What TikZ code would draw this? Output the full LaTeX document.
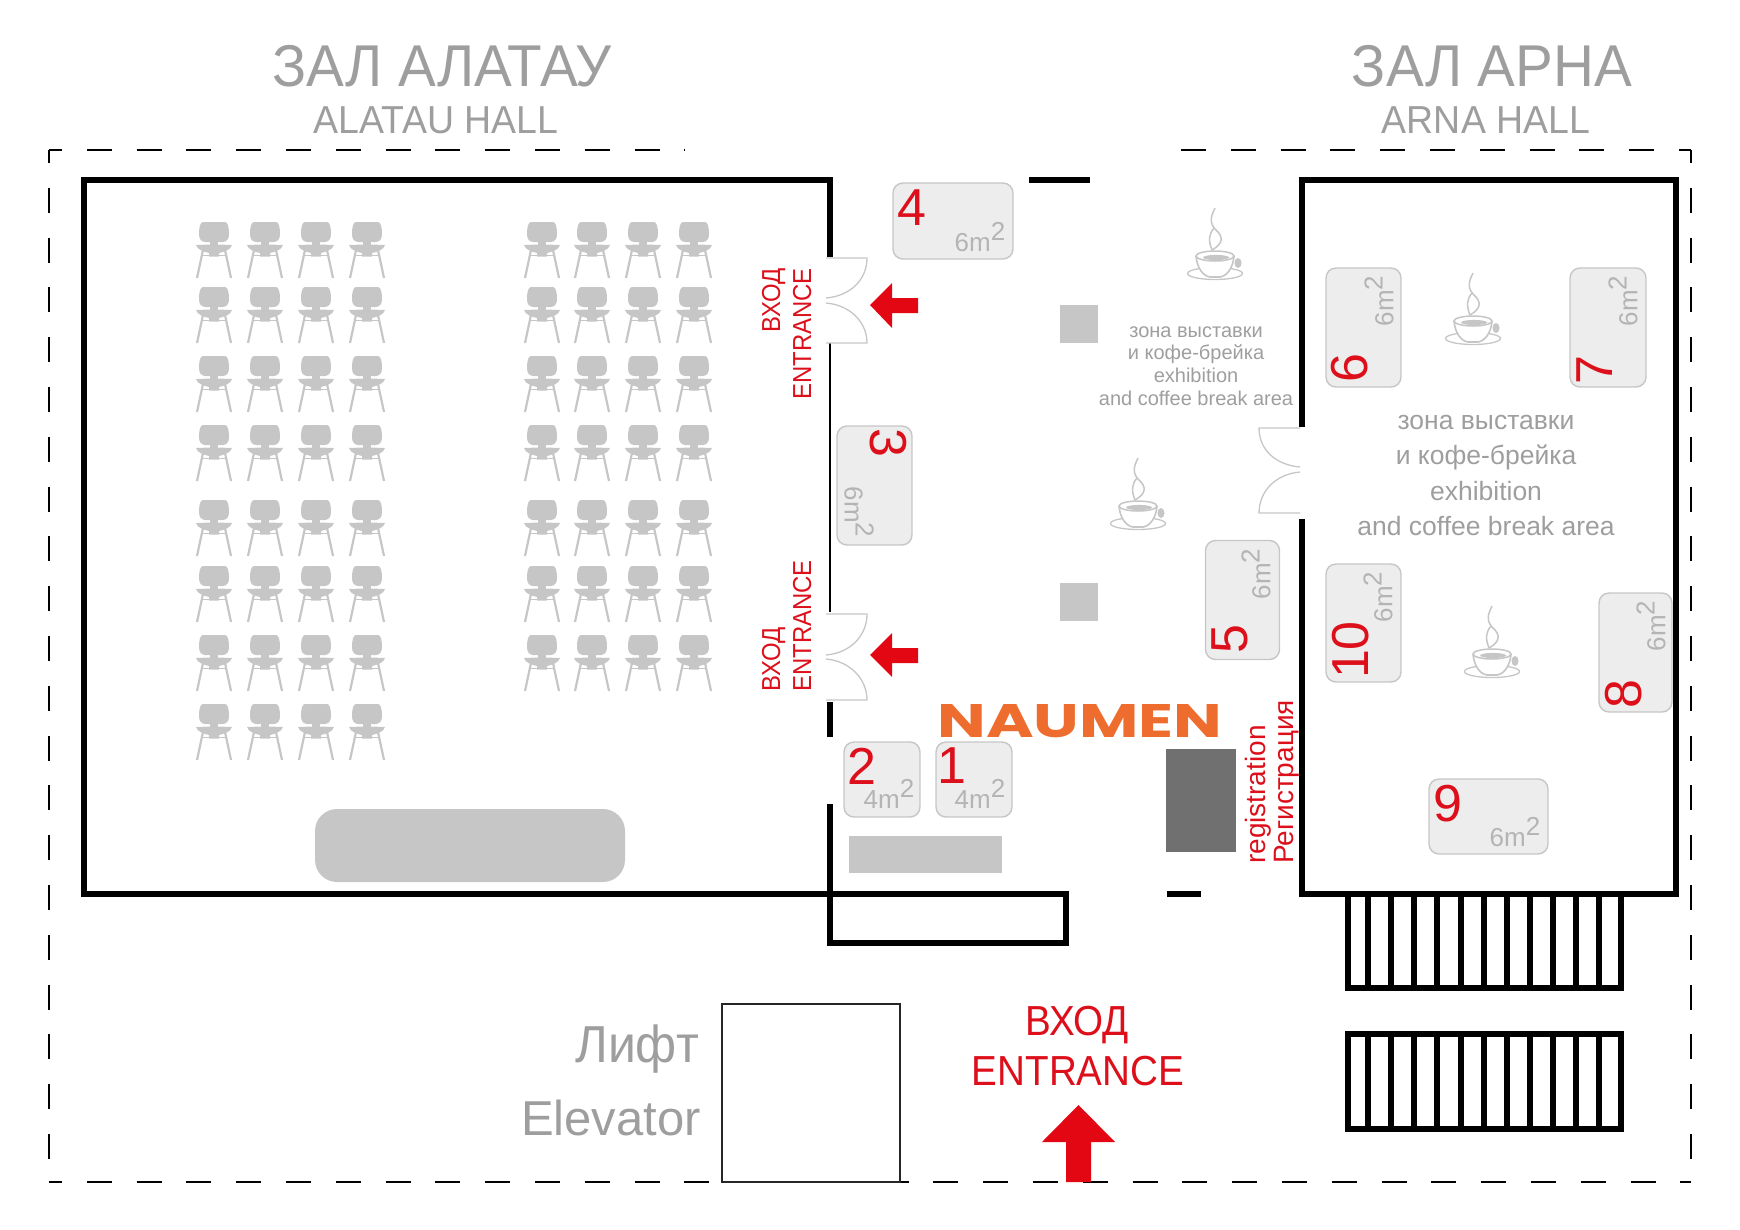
\documentclass[tikz,border=0pt]{standalone}
\usepackage{fontspec}
\usepackage{xcolor}
\setmainfont{Liberation Sans}
\newfontfamily\narrowfont[FakeStretch=0.92]{Liberation Sans}
\newfontfamily\titlefont[FakeStretch=0.96]{Liberation Sans}
\newfontfamily\logofont{Poppins}
\usetikzlibrary{positioning}
\definecolor{numred}{HTML}{DC0F1A}
\definecolor{arrowred}{HTML}{E30613}
\definecolor{labelgray}{HTML}{9E9E9E}
\definecolor{areagray}{HTML}{B4B4B4}
\definecolor{chairgray}{HTML}{C6C6C6}
\definecolor{logoorange}{HTML}{EE6C2D}
\newcommand{\fsz}[1]{\fontsize{#1}{#1}\selectfont}
\newcommand{\sqm}[1]{#1m\raisebox{0.42em}{2}}
\tikzstyle{wall} = [line width=6pt, black, miter limit=10]
\tikzstyle{border} = [line width=2.2pt, black, dash pattern=on 25pt off 24.8pt]
\tikzstyle{door} = [line width=1.3pt, color=chairgray]
\tikzstyle{stand} = [rectangle, draw=chairgray, fill=black!7, line width=1.4pt, rounded corners=10pt, inner sep=0pt]
\tikzstyle{num} = [text=numred, inner sep=0pt, font=\fsz{52}]
\tikzstyle{area} = [text=areagray, inner sep=0pt, font=\fsz{26}]
\tikzstyle{hall} = [text=labelgray, inner sep=0pt, anchor=base]
\tikzstyle{redtext} = [text=numred, inner sep=0pt, rotate=90, font=\narrowfont\fsz{26}]
\newcommand{\chairAt}[2]{
  \begin{scope}[shift={(#1,#2)}, color=chairgray, fill=chairgray]
    \fill (-11,0) -- (11,0) .. controls (14,0) and (15,6) .. (15,12) .. controls (15,17) and (13,19.5) .. (9,20) -- (-9,20) .. controls (-13,19.5) and (-15,17) .. (-15,12) .. controls (-15,6) and (-14,0) .. (-11,0) -- cycle;
    \fill (-4,19) rectangle (4,24);
    \fill (-18,23) .. controls (-8,22.5) and (8,22.5) .. (18,23) .. controls (17,28) and (9,30) .. (5,31) -- (5,34.5) -- (-5,34.5) -- (-5,31) .. controls (-9,30) and (-17,28) .. (-18,23) -- cycle;
    \draw[line width=2.2pt] (-11,28) -- (-17,56);
    \draw[line width=2.2pt] (11,28) -- (17,56);
    \draw[line width=1.4pt] (-11,33.5) -- (11,33.5);
  \end{scope}
}
\newcommand{\cupAt}[2]{
  \begin{scope}[shift={(#1,#2)}, color=chairgray]
    \draw[line width=1.5pt] (0,0) .. controls (-5,10) and (-6,16) .. (3,24) .. controls (10,32) and (4,38) .. (-3,42);
    \draw[line width=1.5pt] (-1,20) .. controls (-6,26) and (-7,32) .. (-3,42);
    \draw[line width=1.3pt] (0,65.5) ellipse (27.5 and 6);
    \fill (23,55) ellipse (3.5 and 5);
    \draw[line width=1.6pt, fill=white] (-19,48) .. controls (-18,60) and (-12,68) .. (-5,69) -- (5,69) .. controls (12,68) and (18,60) .. (19,48);
    \draw[line width=1.5pt, fill=white] (0,48) ellipse (19 and 5);
    \fill (1,49.5) ellipse (13 and 2.6);
  \end{scope}
}
\begin{document}
\begin{tikzpicture}[x=1pt, y=-1pt]
  \useasboundingbox (0,0) rectangle (1740,1229);
  % outer dashed line
  \draw[border, dash phase=12pt] (49,150) -- (685,150);
  \draw[border] (1181,150) -- (1691,150);
  \draw[border, dash phase=12pt] (49,150) -- (49,1182);
  \draw[border, dash phase=12pt] (1691,150) -- (1691,1182);
  \draw[border, dash phase=12pt] (49,1182) -- (1691,1182);
  % hall titles
  \node[hall, font=\titlefont\fsz{59}] (alatauru) at (442,86) {ЗАЛ АЛАТАУ};
  \node[hall, font=\titlefont\fsz{39}] (alatauen) at (436,133) {ALATAU HALL};
  \node[hall, font=\titlefont\fsz{59}] (arnaru) at (1492,86) {ЗАЛ АРНА};
  \node[hall, font=\titlefont\fsz{39}] (arnaen) at (1486,133) {ARNA HALL};
  % walls
  \draw[wall] (830,257) -- (830,180) -- (84,180) -- (84,894) -- (1066,894) -- (1066,943) -- (830,943) -- (830,804);
  \draw[wall] (830,702) -- (830,737);
  \draw[line width=2.4pt] (830,343) -- (830,612);
  \draw[wall] (1029,180) -- (1090,180);
  \draw[wall] (1167,894) -- (1201,894);
  \draw[wall] (1302,427) -- (1302,180) -- (1676,180) -- (1676,894) -- (1302,894) -- (1302,519);
  % doors
  \draw[door] (826,258) -- (867,258) .. controls (867,280) and (850,296) .. (826,298);
  \draw[door] (826,303) .. controls (850,305) and (867,322) .. (867,343) -- (826,343);
  \draw[door] (826,614) -- (867,614) .. controls (867,636) and (850,653) .. (826,655);
  \draw[door] (826,659) .. controls (850,661) and (867,679) .. (867,700) -- (826,700);
  \draw[door] (1300,428) -- (1259,428) .. controls (1259,450) and (1276,465) .. (1300,467);
  \draw[door] (1300,472) .. controls (1276,474) and (1259,491) .. (1259,513) -- (1300,513);
  % stairs
  \draw[wall] (1348,894) -- (1348,988) -- (1621,988) -- (1621,894);
  \draw[wall] (1348,1034) rectangle (1621,1129);
  \foreach \sx in {1368,1391,1414,1437,1461,1484,1507,1530,1553,1576,1599} {
    \draw[wall] (\sx,894) -- (\sx,988);
    \draw[wall] (\sx,1034) -- (\sx,1129);
  }
  % elevator
  \draw[line width=1.5pt, black!85] (722,1004) rectangle (900,1182);
  \node[hall, anchor=base east, font=\titlefont\fsz{52}] (liftru) at (699,1062) {Лифт};
  \node[hall, anchor=base east, font=\fsz{49}] (lifen) at (701,1135) {Elevator};
  % chairs
  \foreach \cx in {214,265,316,367} {
    \foreach \cy in {222,287,356,425,500,566,635,704} {
      \chairAt{\cx}{\cy}
    }
  }
  \foreach \cx in {542,592,643,694} {
    \foreach \cy in {222,287,356,425,500,566,635} {
      \chairAt{\cx}{\cy}
    }
  }
  \fill[chairgray, rounded corners=22pt] (315,809) rectangle (625,882);
  % furniture
  \fill[chairgray] (1060,305) rectangle (1098,343);
  \fill[chairgray] (1060,583) rectangle (1098,621);
  \fill[chairgray] (849,836) rectangle (1002,873);
  \fill[black!56] (1166,749) rectangle (1236,852);
  % coffee
  \cupAt{1215}{208}
  \cupAt{1138}{458}
  \cupAt{1473}{273}
  \cupAt{1492}{606}
  % stands
  \node[stand, minimum width=120, minimum height=76] (s4) at (953,221) {};
  \node[num] (n4) at (912,208) {4};
  \node[area] (a4) at (980,237) {\sqm{6}};
  \node[stand, minimum width=75, minimum height=119] (s3) at (874.5,485.5) {};
  \node[num, rotate=-90] (n3) at (888,443) {3};
  \node[area, rotate=-90] (a3) at (859,512) {\sqm{6}};
  \node[stand, minimum width=76, minimum height=75] (s2) at (882,779.5) {};
  \node[num] (n2) at (862,766) {2};
  \node[area] (a2) at (889,794) {\sqm{4}};
  \node[stand, minimum width=76, minimum height=75] (s1) at (974,779.5) {};
  \node[num] (n1) at (952,766) {1};
  \node[area] (a1) at (980,794) {\sqm{4}};
  \node[stand, minimum width=74, minimum height=119] (s5) at (1242.5,600) {};
  \node[num, rotate=90] (n5) at (1230,639) {5};
  \node[area, rotate=90] (a5) at (1256,574) {\sqm{6}};
  \node[stand, minimum width=75, minimum height=119] (s6) at (1363.5,327.5) {};
  \node[num, rotate=90] (n6) at (1350,368) {6};
  \node[area, rotate=90] (a6) at (1379,301) {\sqm{6}};
  \node[stand, minimum width=76, minimum height=119] (s7) at (1608,327.5) {};
  \node[num, rotate=90] (n7) at (1595,370) {7};
  \node[area, rotate=90] (a7) at (1623,301) {\sqm{6}};
  \node[stand, minimum width=73, minimum height=119] (s8) at (1635.5,652.5) {};
  \node[num, rotate=90] (n8) at (1624,694) {8};
  \node[area, rotate=90] (a8) at (1651,626) {\sqm{6}};
  \node[stand, minimum width=119, minimum height=75] (s9) at (1488.5,816.5) {};
  \node[num] (n9) at (1448,804) {9};
  \node[area] (a9) at (1515,832) {\sqm{6}};
  \node[stand, minimum width=75, minimum height=118] (s10) at (1363.5,623) {};
  \node[num, rotate=90] (n10) at (1351,650) {10};
  \node[area, rotate=90] (a10) at (1378,597) {\sqm{6}};
  % area captions
  \node[hall, anchor=center, align=center, font=\fontsize{20}{22.7}\selectfont] (zonea) at (1196,366) {зона выставки\\и кофе-брейка\\exhibition\\and coffee break area};
  \node[hall, anchor=center, align=center, font=\fontsize{26.5}{35.3}\selectfont] (zoneb) at (1486,475.5) {зона выставки\\и кофе-брейка\\exhibition\\and coffee break area};
  % entrances
  \node[redtext, anchor=base east] (doorru) at (780,268) {ВХОД};
  \node[redtext, anchor=base east] (dooren) at (811,268) {ENTRANCE};
  \node[redtext, anchor=base west] (doorrub) at (780,692) {ВХОД};
  \node[redtext, anchor=base west] (doorenb) at (811,692) {ENTRANCE};
  \node[text=numred, inner sep=0pt, anchor=base, font=\narrowfont\fsz{42}] (mainru) at (1077,1035) {ВХОД};
  \node[text=numred, inner sep=0pt, anchor=base, font=\narrowfont\fsz{42}] (mainen) at (1078,1085) {ENTRANCE};
  \fill[arrowred] (870,305) -- (892,283) -- (892,298) -- (918,298) -- (918,313) -- (892,313) -- (892,328) -- cycle;
  \fill[arrowred] (870,655) -- (892,633) -- (892,648) -- (918,648) -- (918,663) -- (892,663) -- (892,677) -- cycle;
  \fill[arrowred] (1078.5,1105) -- (1115,1142) -- (1091,1142) -- (1091,1182) -- (1066,1182) -- (1066,1142) -- (1042,1142) -- cycle;
  % logo and registration
  \node[text=logoorange, inner sep=0pt] (logo) at (1080,721.5) {\resizebox{285pt}{33pt}{\logofont\bfseries NAUMEN}};
  \node[text=numred, inner sep=0pt, rotate=90, anchor=base west, font=\fsz{28}] (regen) at (1265,864) {registration};
  \node[text=numred, inner sep=0pt, rotate=90, anchor=base west, font=\fsz{28}] (regru) at (1293,864) {Регистрация};
\end{tikzpicture}
\end{document}
